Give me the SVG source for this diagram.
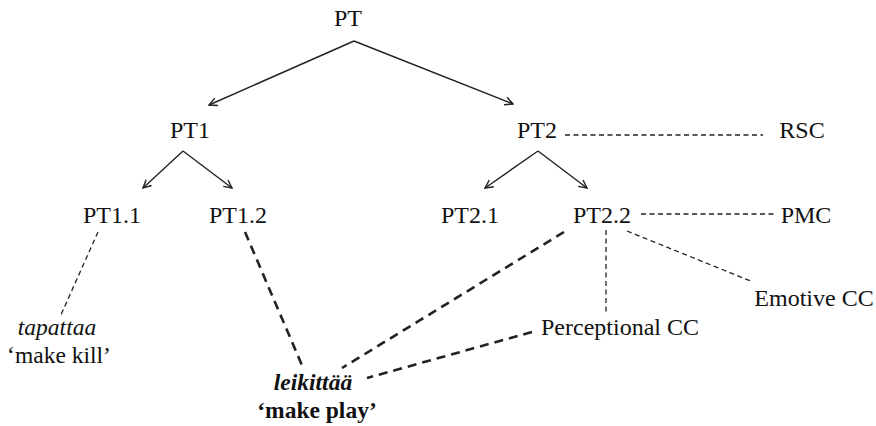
<svg xmlns="http://www.w3.org/2000/svg" width="876" height="426" viewBox="0 0 876 426">
<defs>
<marker id="ah" viewBox="0 0 10 10" refX="9" refY="5" markerWidth="10" markerHeight="10" markerUnits="userSpaceOnUse" orient="auto">
<path d="M1,1 L9,5 L1,9" fill="none" stroke="#222" stroke-width="1.4"/>
</marker>
</defs>
<style>
.t{font-family:"Liberation Serif","Times New Roman",serif;font-size:24px;fill:#111;text-anchor:middle}
.s{font-size:23.5px}
.it{font-style:italic}
.b{font-weight:bold}
.arr{stroke:#222;stroke-width:1.4;fill:none;marker-end:url(#ah)}
.thin{stroke:#222;stroke-width:1.3;fill:none;stroke-dasharray:5 3.5}
.thick{stroke:#222;stroke-width:2.6;fill:none;stroke-dasharray:9 6}
</style>
<rect width="876" height="426" fill="#fff"/>
<g id="connectors">
<line class="arr" x1="354" y1="41" x2="209" y2="105"/>
<line class="arr" x1="354" y1="41" x2="513" y2="104"/>
<line class="arr" x1="183" y1="151" x2="143" y2="188"/>
<line class="arr" x1="183" y1="151" x2="232" y2="188"/>
<line class="arr" x1="538" y1="151" x2="485" y2="188"/>
<line class="arr" x1="538" y1="151" x2="587" y2="188"/>
<line class="thin" x1="565" y1="135" x2="763" y2="135"/>
<line class="thin" x1="641" y1="214" x2="775" y2="214"/>
<line class="thin" x1="606" y1="230" x2="606" y2="312"/>
<line class="thin" x1="627" y1="231" x2="753" y2="282"/>
<line class="thin" x1="98" y1="232" x2="60" y2="317"/>
<line class="thick" x1="245" y1="232" x2="304" y2="370"/>
<line class="thick" x1="564" y1="232" x2="342" y2="368"/>
<line class="thick" x1="532" y1="332" x2="367" y2="378"/>
</g>
<g id="PT"><text class="t" x="348" y="26">PT</text></g>
<g id="PT1"><text class="t" x="190" y="138">PT1</text></g>
<g id="PT2"><text class="t" x="537" y="138">PT2</text></g>
<g id="RSC"><text class="t" x="802" y="138">RSC</text></g>
<g id="PT1.1"><text class="t" x="112" y="223">PT1.1</text></g>
<g id="PT1.2"><text class="t" x="238" y="223">PT1.2</text></g>
<g id="PT2.1"><text class="t" x="470" y="223">PT2.1</text></g>
<g id="PT2.2"><text class="t" x="602" y="223">PT2.2</text></g>
<g id="PMC"><text class="t" x="806" y="223">PMC</text></g>
<g id="EmotiveCC"><text class="t" x="814" y="306">Emotive CC</text></g>
<g id="PerceptionalCC"><text class="t" x="620" y="335">Perceptional CC</text></g>
<g id="tapattaa"><text class="t s it" x="57" y="335">tapattaa</text><text class="t s" x="59" y="363">‘make kill’</text></g>
<g id="leikittaa"><text class="t s it b" x="313" y="390">leikittää</text><text class="t s b" x="317" y="418">‘make play’</text></g>
</svg>
